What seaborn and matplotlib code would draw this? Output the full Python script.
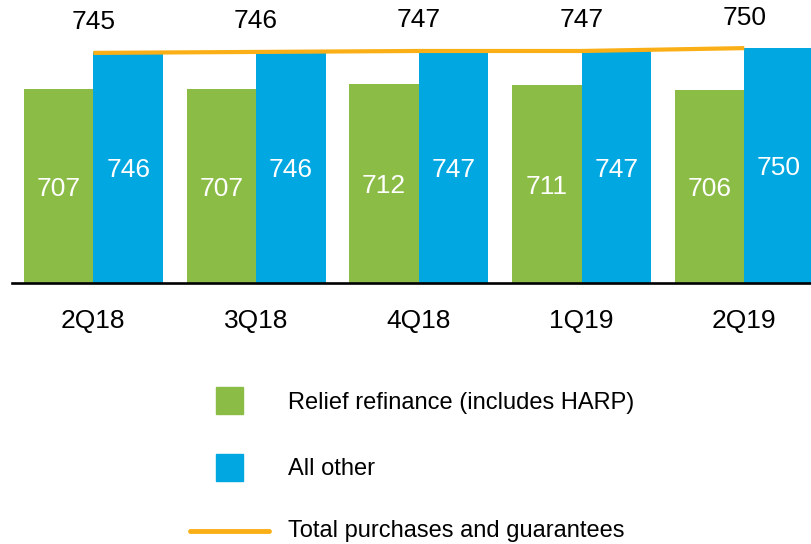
import numpy as np
import pandas as pd
import matplotlib
matplotlib.use("Agg")
import matplotlib.pyplot as plt
from matplotlib.patches import Rectangle
from matplotlib.lines import Line2D
import seaborn as sns

# data
quarters = ["2Q18", "3Q18", "4Q18", "1Q19", "2Q19"]
relief_refi = [707, 707, 712, 711, 706]
all_other = [746, 746, 747, 747, 750]
total_purchases = [745, 746, 747, 747, 750]
series_names = ["Relief refinance (includes HARP)", "All other"]
line_name = "Total purchases and guarantees"

GREEN = "#8BBD46"
BLUE = "#00A7E1"
ORANGE = "#FBAF17"

sns.set_style("white")
plt.rcParams["font.family"] = ["Liberation Sans", "DejaVu Sans"]
plt.rcParams["text.color"] = "black"
plt.rcParams["xtick.color"] = "black"

df = pd.DataFrame({
    "quarter": quarters * 2,
    "value": relief_refi + all_other,
    "series": [series_names[0]] * len(quarters) + [series_names[1]] * len(quarters),
})

fig = plt.figure(figsize=(8.11, 5.44), dpi=100)
ax = fig.add_axes([12 / 811, 1 - 283 / 544, 1 - 12 / 811, 283 / 544])

sns.barplot(data=df, x="quarter", y="value", hue="series", order=quarters,
            hue_order=series_names, palette=[GREEN, BLUE], width=0.855,
            gap=0, saturation=1, legend=False, linewidth=0, ax=ax)

ymin, ymax = 503.5, 800.5
ax.set_ylim(ymin, ymax)
ax.set_xlim(-0.5, 4.41)

# total line across group centres
xpos = np.arange(len(quarters))
ax.plot(xpos, total_purchases, color=ORANGE, lw=3, solid_capstyle="butt", zorder=3)
for x, v in zip(xpos, total_purchases):
    ax.annotate(str(v), (x, v), xytext=(0, 22), textcoords="offset points",
                ha="center", va="center", fontsize=19, color="black")

# values in the middle of the visible part of each bar
for container, vals in zip(ax.containers, [relief_refi, all_other]):
    for bar, v in zip(container, vals):
        cx = bar.get_x() + bar.get_width() / 2
        ax.annotate(str(v), (cx, (ymin + v) / 2), xytext=(0, -2),
                    textcoords="offset points", ha="center", va="center",
                    fontsize=19, color="white")

for s in ["left", "right", "top"]:
    ax.spines[s].set_visible(False)
ax.spines["bottom"].set_color("black")
ax.spines["bottom"].set_linewidth(1.9)
ax.set_yticks([])
ax.set_xlabel("")
ax.set_ylabel("")
ax.tick_params(axis="x", length=0, pad=19, labelsize=19, labelcolor="black")

# legend laid out by hand under the chart
fig.add_artist(Rectangle((216 / 811, 1 - 414 / 544), 27 / 811, 27 / 544,
                         transform=fig.transFigure, color=GREEN))
fig.add_artist(Rectangle((216 / 811, 1 - 481 / 544), 27 / 811, 27 / 544,
                         transform=fig.transFigure, color=BLUE))
fig.add_artist(Line2D([190 / 811, 269 / 811], [1 - 531 / 544, 1 - 531 / 544],
                      transform=fig.transFigure, color=ORANGE, lw=3.5))
fig.text(288 / 811, 1 - 409 / 544, series_names[0], fontsize=17, va="baseline")
fig.text(288 / 811, 1 - 475 / 544, series_names[1], fontsize=17, va="baseline")
fig.text(288 / 811, 1 - 537 / 544, line_name, fontsize=17, va="baseline")

fig.savefig("out.png", dpi=100)
